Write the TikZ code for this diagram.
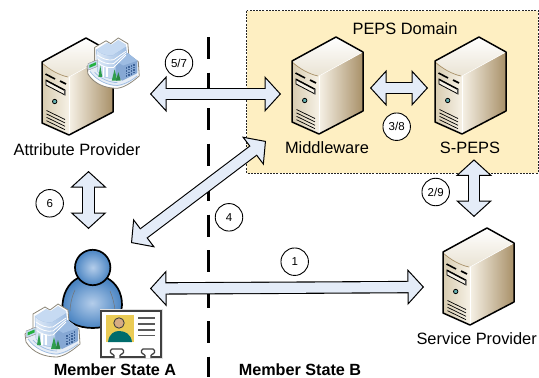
\documentclass[tikz,border=0pt]{standalone}
\usepackage{fontspec}
\setmainfont{Liberation Sans}
\usetikzlibrary{arrows.meta,calc}
\definecolor{arrfill}{HTML}{E4ECF8}
\definecolor{domfill}{HTML}{FEEFC2}
\definecolor{tanlight}{HTML}{F6F1E6}
\definecolor{tanmid}{HTML}{D8CCB0}
\definecolor{tandark}{HTML}{A89068}
\definecolor{bldtop}{HTML}{C6DAF2}
\definecolor{bldbody}{HTML}{9DBCE2}
\definecolor{bldwing}{HTML}{86A8D4}
\definecolor{bldwin}{HTML}{3D6398}
\definecolor{bldline}{HTML}{8C8678}
\definecolor{bldbase}{HTML}{E6EDF6}
\definecolor{usrin}{HTML}{B4CDEA}
\definecolor{usrout}{HTML}{4A84C2}
\definecolor{tree}{HTML}{2F9E4E}
\definecolor{cardyellow}{HTML}{EACB55}
\tikzset{
 x=1pt,y=-1pt,
 blockarrow/.style={draw=black,line width=12.4pt,
   {Triangle[width=36pt,length=16.5pt,line width=1pt,fill=arrfill]}-{Triangle[width=36pt,length=16.5pt,line width=1pt,fill=arrfill]},
   postaction={draw=arrfill,line width=10.2pt,shorten >=14pt,shorten <=14pt,arrows=-}},
 iconbox/.style={rectangle,inner sep=0pt,outer sep=0pt,draw=none},
 lbl/.style={inner sep=0pt,font=\fontsize{16.4}{18}\selectfont},
 lblb/.style={inner sep=0pt,font=\fontsize{16.2}{18}\selectfont\bfseries},
 step circle/.style={circle,draw=black,line width=.9pt,fill=white,minimum size=27.5pt,inner sep=0pt,font=\fontsize{11.5}{13}\selectfont},
 serverpic/.pic={
  \shade[left color=tanlight,right color=tandark] (27,15) -- (71,-9) -- (71,50) -- (27,73) -- cycle;
  \shade[left color=tanmid,right color=tanlight] (0,0) .. controls (8,8) and (17,13) .. (27,15) -- (27,73) -- (0,61) -- cycle;
  \shade[top color=white,bottom color=tanmid!55!white] (0,0) -- (44,-24) -- (71,-9) -- (27,15) .. controls (17,13) and (8,8) .. (0,0) -- cycle;
  \draw[line width=.7pt,draw=tandark] (0,1) .. controls (8,8) and (17,13) .. (26,15);
  \draw[line width=.8pt,draw=white] (27,15) -- (27,73);
  \draw[line width=.5pt,draw=white] (27,15) -- (71,-9);
  \draw[line width=1.6pt] (3.5,12) -- (13,17);
  \draw[line width=1.6pt] (18,19) -- (24,22);
  \draw[line width=.8pt,fill=tanlight] (4,18) -- (23,28) -- (23,33) -- (4,23) -- cycle;
  \draw[line width=1.2pt] (4,18.5) -- (23,28.5);
  \fill[black!70] (23,28) -- (23,33) -- (22,32.5) -- (22,28) -- cycle;
  \draw[line width=.8pt,fill=teal!60!white] (12.7,39.5) circle[radius=2.2];
  \foreach \d in {0,3.4,6.8,10.2}{\draw[line width=.7pt] (4.5,48.5+\d) -- (23,57.5+\d);}
  \draw[line width=1.5pt,line join=round] (0,0) -- (44,-24) -- (71,-9) -- (71,50) -- (27,73) -- (0,61) -- cycle;
 },
 buildingpic/.pic={
  \draw[fill=white,draw=bldline,line width=.8pt,line join=round]
    (8,11) -- (20,4) -- (25,7) -- (33,1) -- (43,7) -- (44,19) -- (54,26) -- (55,41)
    .. controls (48,47) and (40,53) .. (32,54) .. controls (20,54) and (8,50) .. (1,39) -- (0,31) -- (8,25) -- cycle;
  \fill[bldbase] (1,32) .. controls (8,46) and (24,52) .. (32,52) .. controls (42,51) and (50,45) .. (54,40) -- (28,30) -- cycle;
  \draw[bldbody,line width=.7pt] (3,36) .. controls (10,46) and (22,51) .. (32,51) .. controls (40,50) and (48,45) .. (53,41);
  \draw[bldbody,line width=.7pt] (8,37) .. controls (14,44) and (24,48) .. (32,48);
  \fill[bldwing] (29,25) -- (43,17) -- (53,25) -- (53,38) -- (37,46) -- (29,40) -- cycle;
  \fill[bldbody] (38,30) -- (53,25) -- (43,17) -- (30,25) -- cycle;
  \foreach \a in {0,1,2,3}{\foreach \b in {0,1,2,3}{\fill[bldwin] (41+2.6*\a,32-1.2*\a+2.8*\b) rectangle ++(1.5,1.6);}}
  \shade[left color=bldtop!60!white,right color=bldbody,draw=bldbody,line width=.4pt] (10,13) .. controls (14,18) and (22,20) .. (27,19) -- (41,10) -- (42,21) -- (30,28) -- (30,44) .. controls (22,44) and (14,42) .. (11,36) -- cycle;
  \fill[bldtop] (10,13) -- (21,6) -- (26,8) -- (33,3) -- (41,8) -- (41,10) -- (27,19) .. controls (22,20) and (14,18) .. (10,13) -- cycle;
  \foreach \d in {0,4,8}{\draw[white,line width=.8pt] (11,19+\d) .. controls (16,23+\d) and (22,25+\d) .. (28,24+\d) -- (41,15+\d*.5);}
  \foreach \d in {0,4}{\draw[white,line width=1.2pt] (17+\d,31+\d*.2) -- (17+\d,42);}
  \fill[tree] (14,30) -- (16,42) -- (12,42) -- cycle;
  \fill[tree] (29,34) -- (32,46) -- (26,46) -- cycle;
  \fill[tree!85!black] (33,37) -- (35.5,46) -- (30.5,46) -- cycle;
  \fill[bldtop,draw=bldline,line width=.3pt] (1,28) -- (11,24) -- (11,31) -- (1,35) -- cycle;
  \fill[tree!80!green] (2.5,29.5) -- (9.5,26.5) -- (9.5,29.5) -- (2.5,32.5) -- cycle;
 },
}
\begin{document}
\begin{tikzpicture}
\useasboundingbox (0,0) rectangle (539,378);
\fill[white] (0,0) rectangle (539,378);
\draw[fill=domfill,draw=black!85,line width=.6pt,dash pattern=on 2pt off 1.2pt] (246.7,10.7) rectangle (538,173);
\coordinate (divtop) at (208,37);
\coordinate (divbot) at (208,377);
\draw[line width=3pt,dash pattern=on 22pt off 13.5pt] (divtop) -- (divbot);
\node[iconbox,minimum width=123pt,minimum height=154pt] (attr) at (88.5,94) {};
\node[iconbox,minimum width=89pt,minimum height=106pt] (mw) at (325.5,88) {};
\node[iconbox,minimum width=92pt,minimum height=142.6pt] (speps) at (474,88) {};
\node[iconbox,minimum width=123pt,minimum height=119pt] (user) at (88.5,288.5) {};
\node[iconbox,minimum width=100pt,minimum height=140pt] (sp) at (474,287) {};
\pic at (42,62) {serverpic};
\pic at (292,61) {serverpic};
\pic at (435,61) {serverpic};
\pic at (443,252) {serverpic};
\pic[scale=.95] at (87,37) {buildingpic};
\draw[line width=1.7pt,inner color=usrin,outer color=usrout,shading=radial]
  (78,278) .. controls (68,283) and (62,295) .. (62.5,308) .. controls (63,322) and (78,328) .. (93,328) .. controls (108,328) and (122,320) .. (122,305) .. controls (122,292) and (116,283) .. (107,278) -- cycle;
\draw[line width=.5pt,draw=black!55] (75,290) .. controls (71,298) and (70,308) .. (70,311);
\draw[line width=.5pt,draw=black!55] (110,291) .. controls (113,298) and (115,306) .. (115,312);
\draw[line width=1.7pt,inner color=usrin,outer color=usrout,shading=radial] (92.7,267.5) circle[radius=17.7];
\pic at (25,303) {buildingpic};
\fill[black!12] (100,309) rectangle (163,359);
\draw[fill=white,draw=black!75,line width=1.6pt] (101,311) rectangle (161,357);
\fill[cardyellow] (106,315) rectangle (134,342);
\fill[teal!85!black] (108,342) .. controls (109,334) and (114,331) .. (119,331) .. controls (125,331) and (131,334) .. (132,342) -- cycle;
\draw[fill=brown!65!white,draw=black!75,line width=.9pt] (119,323) circle[radius=5.2];
\foreach \yy in {318,324,330,335.5}{\draw[line width=1.5pt,draw=black!65] (138,\yy) -- (155,\yy);}
\foreach \xx in {117,148}{
  \draw[fill=white,draw=black!75,line width=1.2pt,rounded corners=1.5pt] (\xx-3,358) -- (\xx-3,354) -- (\xx-6.5,354) -- (\xx-6.5,349) -- (\xx+6.5,349) -- (\xx+6.5,354) -- (\xx+3,354) -- (\xx+3,358);
  \fill[white] (\xx-2.2,355) rectangle (\xx+2.2,358.2);
}
\draw[blockarrow] (attr.east) -- ([yshift=-6pt]mw.west);
\draw[blockarrow] (mw.east) -- (speps.west);
\draw[blockarrow] (attr.south) -- (user.north);
\draw[blockarrow] ([xshift=-19pt,yshift=-14pt]user.north east) -- ([xshift=-15pt]mw.south west);
\draw[blockarrow] (user.east) -- (sp.west);
\draw[blockarrow] (speps.south) -- (sp.north);
\node[lbl] (lattr) at (77,149.5) {Attribute Provider};
\node[lbl] (lmw) at (327,148) {Middleware};
\node[lbl] (lspeps) at (470,148) {S-PEPS};
\node[lbl] (ldom) at (405,29) {PEPS Domain};
\node[lbl] (lsp) at (476.7,339) {Service Provider};
\node[lblb] (lmsa) at (115,369.3) {Member State A};
\node[lblb] (lmsb) at (300,369.3) {Member State B};
\node[step circle] (c57) at (179,63) {5/7};
\node[step circle] (c38) at (396.7,126.7) {3/8};
\node[step circle] (c29) at (435.7,192) {2/9};
\node[step circle] (c6) at (49.7,203.3) {6};
\node[step circle] (c4) at (229,217.3) {4};
\node[step circle] (c1) at (294.7,261.7) {1};
\end{tikzpicture}
\end{document}
